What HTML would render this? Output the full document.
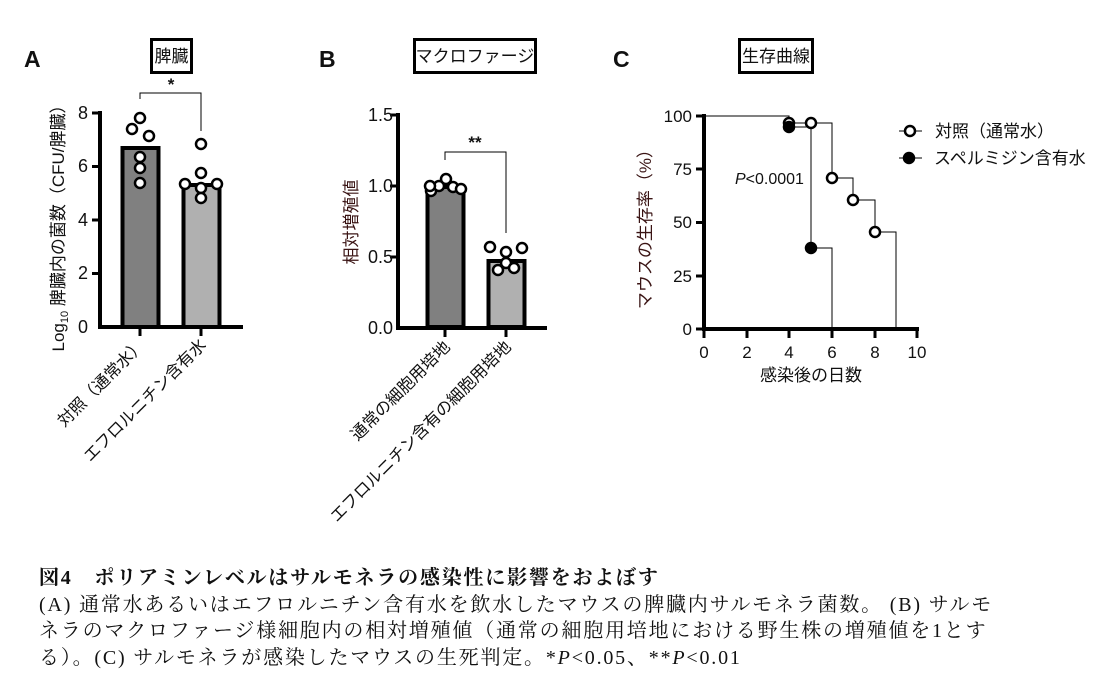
<!DOCTYPE html>
<html><head><meta charset="utf-8"><style>
body{margin:0;background:#fff;width:1100px;height:700px;overflow:hidden;position:relative}
svg text{font-family:"Liberation Sans","Noto Sans CJK JP",sans-serif;fill:#111}
.cap{position:absolute;left:39px;white-space:nowrap;font-family:"Liberation Serif","Noto Serif CJK JP",serif;font-size:20px;letter-spacing:1.8px;color:#111;line-height:26px}
</style></head><body>
<svg width="1100" height="560" style="position:absolute;left:0;top:0">
<!-- Panel A -->
<text x="24" y="67" font-size="23" font-weight="bold">A</text>
<rect x="151.5" y="39.5" width="40" height="33" fill="none" stroke="#000" stroke-width="3"/>
<text x="171.5" y="62" font-size="17" text-anchor="middle">脾臓</text>
<text x="171" y="90" font-size="17" font-weight="bold" text-anchor="middle">*</text>
<polyline points="140,99 140,93 201,93 201,131" fill="none" stroke="#000" stroke-width="1"/>
<rect x="122.5" y="148" width="36" height="179" fill="#808080" stroke="#000" stroke-width="4"/>
<rect x="183.5" y="185" width="36" height="142" fill="#b0b0b0" stroke="#000" stroke-width="4"/>
<line x1="100" y1="111" x2="100" y2="329" stroke="#000" stroke-width="4"/>
<line x1="98" y1="327" x2="243" y2="327" stroke="#000" stroke-width="4"/>
<g stroke="#000" stroke-width="3"><line x1="92" y1="113" x2="100" y2="113"/><line x1="92" y1="166.5" x2="100" y2="166.5"/><line x1="92" y1="220" x2="100" y2="220"/><line x1="92" y1="273.5" x2="100" y2="273.5"/><line x1="140" y1="327" x2="140" y2="336"/><line x1="201" y1="327" x2="201" y2="336"/></g>
<g font-size="18" text-anchor="end"><text x="88" y="119">8</text><text x="88" y="172">6</text><text x="88" y="226">4</text><text x="88" y="279">2</text><text x="88" y="333">0</text></g>
<g fill="#fff" stroke="#000" stroke-width="2.5"><circle cx="140" cy="118" r="5"/><circle cx="132" cy="129" r="5"/><circle cx="149" cy="136" r="5"/><circle cx="140" cy="157" r="5"/><circle cx="140" cy="168" r="5"/><circle cx="140" cy="183" r="5"/>
<circle cx="201" cy="144" r="5"/><circle cx="201" cy="173" r="5"/><circle cx="185" cy="184" r="5"/><circle cx="217" cy="184" r="5"/><circle cx="201" cy="188" r="5"/><circle cx="201" cy="198" r="5"/></g>
<text transform="translate(64,224) rotate(-90)" font-size="17" text-anchor="middle">Log<tspan font-size="11" dy="4">10</tspan><tspan dy="-4"> 脾臓内の菌数（CFU/脾臓）</tspan></text>
<text transform="translate(146,346) rotate(-45)" font-size="16.5" text-anchor="end">対照（通常水）</text>
<text transform="translate(207,346) rotate(-45)" font-size="16.5" text-anchor="end">エフロルニチン含有水</text>
<!-- Panel B -->
<text x="319" y="67" font-size="23" font-weight="bold">B</text>
<rect x="414.5" y="39.5" width="121" height="33" fill="none" stroke="#000" stroke-width="3"/>
<text x="475" y="62" font-size="17" text-anchor="middle">マクロファージ</text>
<text x="475" y="148" font-size="17" font-weight="bold" text-anchor="middle">**</text>
<polyline points="445,160 445,152 506,152 506,233" fill="none" stroke="#000" stroke-width="1"/>
<rect x="427.5" y="187" width="36" height="140" fill="#808080" stroke="#000" stroke-width="4"/>
<rect x="488.5" y="261" width="36" height="66" fill="#b0b0b0" stroke="#000" stroke-width="4"/>
<line x1="398" y1="113" x2="398" y2="330" stroke="#000" stroke-width="4"/>
<line x1="396" y1="328" x2="547" y2="328" stroke="#000" stroke-width="4"/>
<g stroke="#000" stroke-width="3"><line x1="390" y1="115" x2="398" y2="115"/><line x1="390" y1="186" x2="398" y2="186"/><line x1="390" y1="257" x2="398" y2="257"/><line x1="445" y1="328" x2="445" y2="337"/><line x1="506" y1="328" x2="506" y2="337"/></g>
<g font-size="18" text-anchor="end"><text x="393" y="121">1.5</text><text x="393" y="192">1.0</text><text x="393" y="263">0.5</text><text x="393" y="334">0.0</text></g>
<g fill="#fff" stroke="#000" stroke-width="2.5"><circle cx="431" cy="191" r="5"/><circle cx="439" cy="186" r="5"/><circle cx="446" cy="179" r="5"/><circle cx="453" cy="187" r="5"/><circle cx="461" cy="189" r="5"/><circle cx="430" cy="186" r="5"/>
<circle cx="490" cy="247" r="5"/><circle cx="506" cy="252" r="5"/><circle cx="522" cy="248" r="5"/><circle cx="506" cy="263" r="5"/><circle cx="498" cy="270" r="5"/><circle cx="514" cy="268" r="5"/></g>
<text transform="translate(357,222) rotate(-90)" font-size="17" text-anchor="middle" style="fill:#3a1414">相対増殖値</text>
<text transform="translate(451,348) rotate(-45)" font-size="16.5" text-anchor="end">通常の細胞用培地</text>
<text transform="translate(512,348) rotate(-45)" font-size="16.5" text-anchor="end">エフロルニチン含有の細胞用培地</text>
<!-- Panel C -->
<text x="613" y="67" font-size="23" font-weight="bold">C</text>
<rect x="739.5" y="39.5" width="73" height="33" fill="none" stroke="#000" stroke-width="3"/>
<text x="776" y="62" font-size="17" text-anchor="middle">生存曲線</text>
<line x1="704" y1="114" x2="704" y2="331" stroke="#000" stroke-width="4"/>
<line x1="702" y1="329" x2="919" y2="329" stroke="#000" stroke-width="4"/>
<g stroke="#000" stroke-width="3"><line x1="696" y1="116" x2="704" y2="116"/><line x1="696" y1="169" x2="704" y2="169"/><line x1="696" y1="222.5" x2="704" y2="222.5"/><line x1="696" y1="276" x2="704" y2="276"/><line x1="696" y1="329" x2="704" y2="329"/>
<line x1="704" y1="329" x2="704" y2="338"/><line x1="747" y1="329" x2="747" y2="338"/><line x1="789" y1="329" x2="789" y2="338"/><line x1="832" y1="329" x2="832" y2="338"/><line x1="875" y1="329" x2="875" y2="338"/><line x1="917" y1="329" x2="917" y2="338"/></g>
<g font-size="17" text-anchor="end"><text x="692" y="122">100</text><text x="692" y="175">75</text><text x="692" y="228">50</text><text x="692" y="282">25</text><text x="692" y="335">0</text></g>
<g font-size="17" text-anchor="middle"><text x="704" y="358">0</text><text x="747" y="358">2</text><text x="789" y="358">4</text><text x="832" y="358">6</text><text x="875" y="358">8</text><text x="917" y="358">10</text></g>
<text x="811" y="381" font-size="17" text-anchor="middle">感染後の日数</text>
<text transform="translate(651,225) rotate(-90)" font-size="17" text-anchor="middle" style="fill:#3a1414">マウスの生存率（%）</text>
<polyline points="704,116 789,116 789,123 832,123 832,178 853,178 853,200 875,200 875,232 896,232 896,329" fill="none" stroke="#000" stroke-width="1"/>
<polyline points="789,123 789,127 811,127 811,248 832,248 832,329" fill="none" stroke="#000" stroke-width="1"/>
<g stroke="#000" stroke-width="2.5"><circle cx="789" cy="123" r="5" fill="#fff"/><circle cx="789" cy="127" r="5" fill="#000"/><circle cx="811" cy="123" r="5" fill="#fff"/><circle cx="832" cy="178" r="5" fill="#fff"/><circle cx="853" cy="200" r="5" fill="#fff"/><circle cx="875" cy="232" r="5" fill="#fff"/><circle cx="811" cy="248" r="5" fill="#000"/></g>
<text x="735" y="184" font-size="16"><tspan font-style="italic">P</tspan>&lt;0.0001</text>
<line x1="899" y1="131" x2="922" y2="131" stroke="#000" stroke-width="1"/><circle cx="910" cy="131" r="5" fill="#fff" stroke="#000" stroke-width="2.5"/>
<line x1="899" y1="158" x2="922" y2="158" stroke="#000" stroke-width="1"/><circle cx="909" cy="158" r="5" fill="#000" stroke="#000" stroke-width="2.5"/>
<text x="935" y="137" font-size="17">対照（通常水）</text>
<text x="934" y="164" font-size="17">スペルミジン含有水</text>
</svg>
<div class="cap" style="top:565px;font-weight:bold">図4　ポリアミンレベルはサルモネラの感染性に影響をおよぼす</div>
<div class="cap" style="top:592px">(A) 通常水あるいはエフロルニチン含有水を飲水したマウスの脾臓内サルモネラ菌数。 (B) サルモ</div>
<div class="cap" style="top:618px">ネラのマクロファージ様細胞内の相対増殖値（通常の細胞用培地における野生株の増殖値を1とす</div>
<div class="cap" style="top:645px">る）。(C) サルモネラが感染したマウスの生死判定。*<i>P</i>&lt;0.05、**<i>P</i>&lt;0.01</div>
</body></html>
